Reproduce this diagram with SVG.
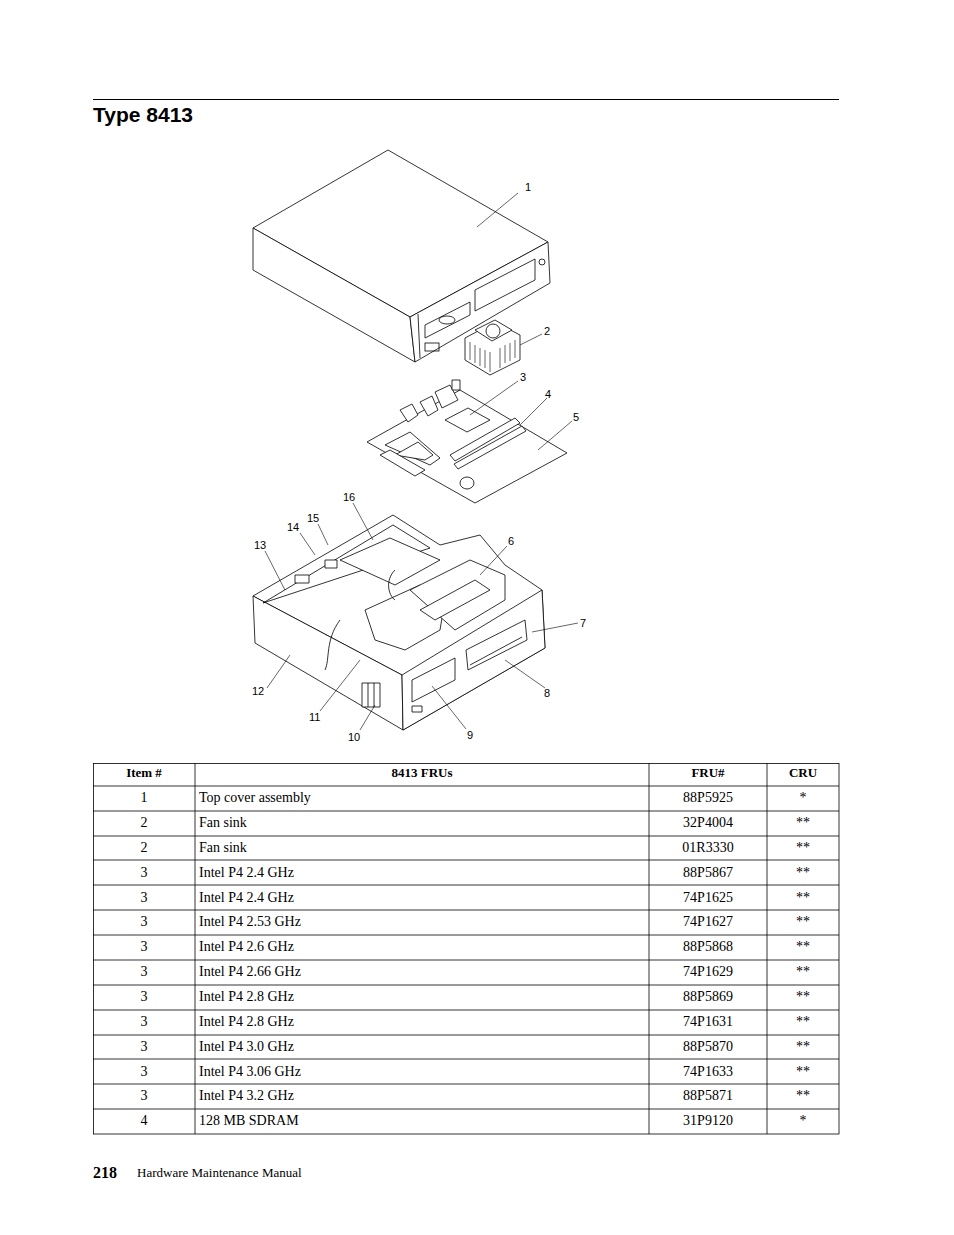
<svg xmlns="http://www.w3.org/2000/svg" width="954" height="1235" viewBox="0 0 954 1235">
<style>
.d{fill:#fff;stroke:#000;stroke-width:0.8;stroke-linejoin:round}
.n{fill:none;stroke:#000;stroke-width:0.8}
.l{fill:none;stroke:#000;stroke-width:0.6}
.lb{font-family:"Liberation Sans",Arial,sans-serif;font-size:11px}
.t{font-family:"Liberation Serif","Times New Roman",serif;font-size:14px}
.h{font-family:"Liberation Serif","Times New Roman",serif;font-size:13px;font-weight:bold}
.g{fill:none;stroke:#000;stroke-width:0.8}
</style>
<rect width="954" height="1235" fill="#fff"/>
<line x1="93" y1="99.5" x2="839" y2="99.5" stroke="#000" stroke-width="1"/>
<text x="93" y="122" font-family="Liberation Sans,Arial,sans-serif" font-size="21" font-weight="bold">Type 8413</text>

<g id="cover">
<polygon class="d" points="388,150 253,228 410,317 548,242"/>
<polygon class="d" points="253,228 253,270 415,362 410,317"/>
<polygon class="d" points="410,317 415,362 550,283 548,242"/>
<polyline class="n" points="418,314 420,358"/>
<polygon class="n" points="475,290 535,259 535,280 475,311"/>
<polygon class="n" points="425,325 470,302 470,315 425,338"/>
<ellipse class="n" cx="447" cy="320" rx="8" ry="4"/>
<rect class="n" x="425" y="343" width="14" height="8"/>
<circle class="n" cx="542" cy="262" r="3"/>
</g>
<g id="fansink">
<polygon class="d" points="465,338 495,322 520,335 520,360 490,375 465,360"/>
<polygon class="d" points="475,330 495,320 512,330 492,341"/>
<circle class="n" cx="493" cy="331" r="7"/>
<path class="l" d="M470,342v18M475,345v18M480,348v18M485,350v18M490,352v20M500,348v20M505,345v18M510,343v18M515,340v18"/>
</g>
<g id="board">
<polygon class="d" points="367,442 475,503 567,453 460,390"/>
<polygon class="d" points="445,420 468,408 490,420 467,432"/>
<polygon class="d" points="450,455 515,418 520,423 455,461"/>
<polygon class="d" points="454,464 522,426 526,431 458,469"/>
<polygon class="d" points="385,445 410,432 440,458 430,465"/>
<polygon class="d" points="395,455 418,442 433,455 425,460"/>
<polygon class="d" points="400,410 412,404 418,415 408,422"/>
<polygon class="d" points="420,402 432,396 438,410 428,416"/>
<polygon class="d" points="435,392 450,385 458,400 442,408"/>
<rect class="d" x="452" y="380" width="8" height="10"/>
<ellipse class="d" cx="467" cy="483" rx="7" ry="6"/>
<polygon class="d" points="380,455 390,450 425,470 415,476"/>
</g>
<g id="chassis">
<polygon class="d" points="253,596 393,515 440,545 480,535 505,565 542,590 545,648 403,730 402,675"/>
<polygon class="d" points="253,596 255,643 403,730 402,675"/>
<polygon class="d" points="402,675 403,730 545,648 542,590"/>
<polygon class="n" points="263,603 393,525 430,548"/>
<polygon class="d" points="340,560 390,538 440,560 395,585"/>
<polygon class="d" points="365,610 420,585 445,600 440,630 405,650 375,640"/>
<polygon class="d" points="410,590 470,560 505,575 505,600 455,630"/>
<polygon class="d" points="420,610 475,580 490,590 435,620"/>
<polygon class="d" points="412,680 455,658 455,680 412,702"/>
<polygon class="d" points="466,650 525,620 527,640 468,670"/>
<line class="n" x1="470" y1="665" x2="522" y2="637"/>
<rect class="d" x="362" y="683" width="18" height="24"/>
<line class="n" x1="368" y1="683" x2="368" y2="707"/><line class="n" x1="374" y1="683" x2="374" y2="707"/>
<path class="n" d="M340,620 C325,640 330,660 325,670"/>
<path class="n" d="M395,570 C385,580 388,595 395,600"/>
<rect class="d" x="295" y="575" width="14" height="8"/>
<rect class="d" x="325" y="560" width="12" height="8"/>
<rect class="d" x="412" y="706" width="10" height="6"/>
</g>
<g id="connectors">
<line class="l" x1="518" y1="193" x2="477" y2="227"/>
<line class="l" x1="542" y1="334" x2="520" y2="345"/>
<line class="l" x1="518" y1="381" x2="470" y2="415"/>
<line class="l" x1="547" y1="398" x2="520" y2="425"/>
<line class="l" x1="572" y1="421" x2="538" y2="450"/>
<line class="l" x1="353" y1="503" x2="373" y2="540"/>
<line class="l" x1="318" y1="524" x2="328" y2="545"/>
<line class="l" x1="300" y1="533" x2="315" y2="555"/>
<line class="l" x1="265" y1="551" x2="285" y2="590"/>
<line class="l" x1="507" y1="546" x2="480" y2="575"/>
<line class="l" x1="578" y1="623" x2="532" y2="632"/>
<line class="l" x1="545" y1="688" x2="505" y2="660"/>
<line class="l" x1="466" y1="729" x2="432" y2="686"/>
<line class="l" x1="360" y1="730" x2="375" y2="705"/>
<line class="l" x1="320" y1="711" x2="360" y2="660"/>
<line class="l" x1="267" y1="688" x2="290" y2="655"/>
</g>
<g class="lb">
<text x="525" y="191">1</text><text x="544" y="335">2</text><text x="520" y="381">3</text>
<text x="545" y="398">4</text><text x="573" y="421">5</text><text x="343" y="501">16</text>
<text x="307" y="522">15</text><text x="287" y="531">14</text><text x="254" y="549">13</text>
<text x="508" y="545">6</text><text x="580" y="627">7</text><text x="544" y="697">8</text>
<text x="467" y="739">9</text><text x="348" y="741">10</text><text x="309" y="721">11</text>
<text x="252" y="695">12</text>
</g>

<g id="table">
<rect class="g" x="93.5" y="763.5" width="745.5" height="370.5"/>
<g class="g">
<line x1="195" y1="763" x2="195" y2="1134"/><line x1="649" y1="763" x2="649" y2="1134"/><line x1="767" y1="763" x2="767" y2="1134"/>
<line x1="93" y1="786" x2="839" y2="786"/><line x1="93" y1="811" x2="839" y2="811"/><line x1="93" y1="836" x2="839" y2="836"/>
<line x1="93" y1="860" x2="839" y2="860"/><line x1="93" y1="885" x2="839" y2="885"/><line x1="93" y1="910" x2="839" y2="910"/>
<line x1="93" y1="935" x2="839" y2="935"/><line x1="93" y1="960" x2="839" y2="960"/><line x1="93" y1="985" x2="839" y2="985"/>
<line x1="93" y1="1010" x2="839" y2="1010"/><line x1="93" y1="1035" x2="839" y2="1035"/><line x1="93" y1="1059" x2="839" y2="1059"/>
<line x1="93" y1="1084" x2="839" y2="1084"/><line x1="93" y1="1109" x2="839" y2="1109"/>
</g>
<g class="h" text-anchor="middle">
<text x="144" y="777">Item #</text><text x="422" y="777">8413 FRUs</text><text x="708" y="777">FRU#</text><text x="803" y="777">CRU</text>
</g>
<g class="t">
<g text-anchor="middle">
<text x="144" y="802">1</text><text x="144" y="827">2</text><text x="144" y="852">2</text><text x="144" y="877">3</text>
<text x="144" y="902">3</text><text x="144" y="926">3</text><text x="144" y="951">3</text><text x="144" y="976">3</text>
<text x="144" y="1001">3</text><text x="144" y="1026">3</text><text x="144" y="1051">3</text><text x="144" y="1076">3</text>
<text x="144" y="1100">3</text><text x="144" y="1125">4</text>
<text x="708" y="802">88P5925</text><text x="708" y="827">32P4004</text><text x="708" y="852">01R3330</text><text x="708" y="877">88P5867</text>
<text x="708" y="902">74P1625</text><text x="708" y="926">74P1627</text><text x="708" y="951">88P5868</text><text x="708" y="976">74P1629</text>
<text x="708" y="1001">88P5869</text><text x="708" y="1026">74P1631</text><text x="708" y="1051">88P5870</text><text x="708" y="1076">74P1633</text>
<text x="708" y="1100">88P5871</text><text x="708" y="1125">31P9120</text>
<text x="803" y="802">*</text><text x="803" y="827">**</text><text x="803" y="852">**</text><text x="803" y="877">**</text>
<text x="803" y="902">**</text><text x="803" y="926">**</text><text x="803" y="951">**</text><text x="803" y="976">**</text>
<text x="803" y="1001">**</text><text x="803" y="1026">**</text><text x="803" y="1051">**</text><text x="803" y="1076">**</text>
<text x="803" y="1100">**</text><text x="803" y="1125">*</text>
</g>
<text x="199" y="802">Top cover assembly</text><text x="199" y="827">Fan sink</text><text x="199" y="852">Fan sink</text>
<text x="199" y="877">Intel P4 2.4 GHz</text><text x="199" y="902">Intel P4 2.4 GHz</text><text x="199" y="926">Intel P4 2.53 GHz</text>
<text x="199" y="951">Intel P4 2.6 GHz</text><text x="199" y="976">Intel P4 2.66 GHz</text><text x="199" y="1001">Intel P4 2.8 GHz</text>
<text x="199" y="1026">Intel P4 2.8 GHz</text><text x="199" y="1051">Intel P4 3.0 GHz</text><text x="199" y="1076">Intel P4 3.06 GHz</text>
<text x="199" y="1100">Intel P4 3.2 GHz</text><text x="199" y="1125">128 MB SDRAM</text>
</g>
</g>
<text x="93" y="1178" font-family="Liberation Serif,Times New Roman,serif" font-size="16" font-weight="bold">218</text>
<text x="137" y="1177" font-family="Liberation Serif,Times New Roman,serif" font-size="13">Hardware Maintenance Manual</text>
</svg>
